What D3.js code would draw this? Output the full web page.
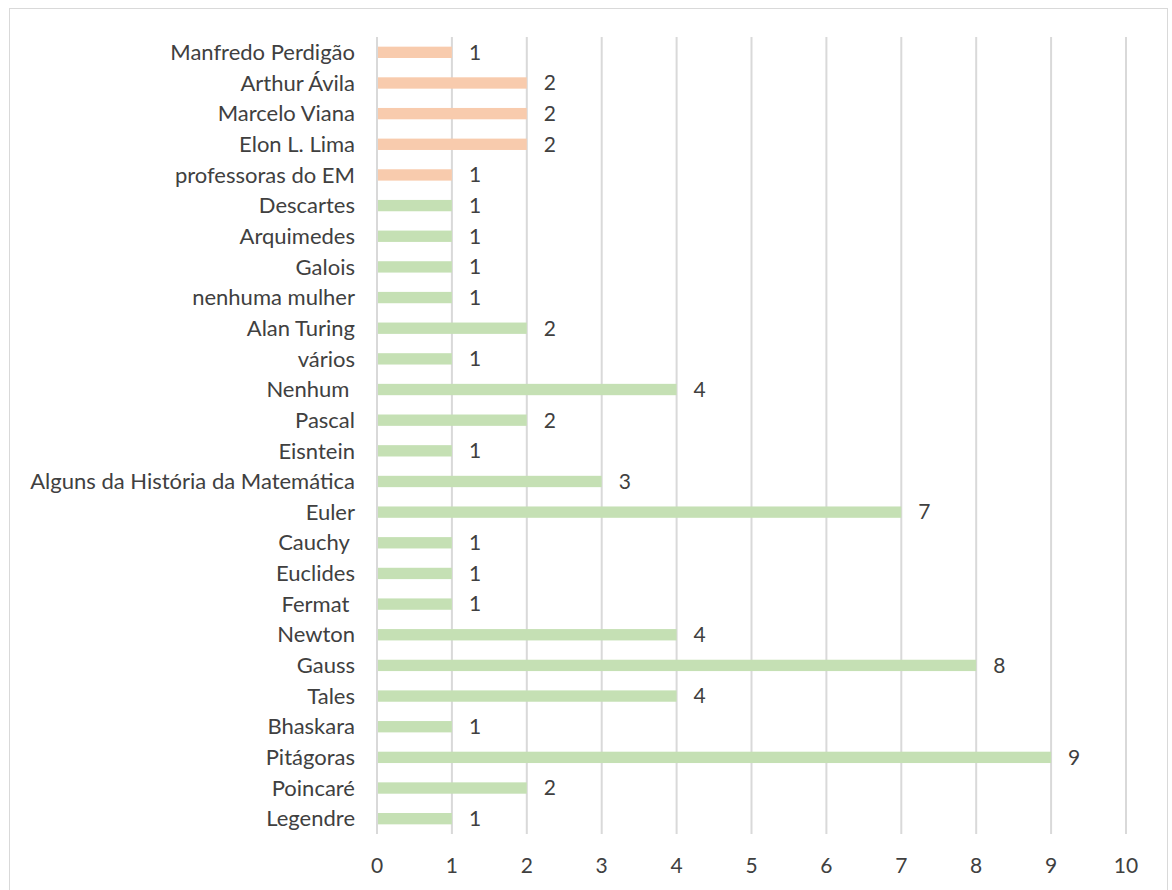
<!DOCTYPE html>
<html>
<head>
<meta charset="utf-8">
<script src="https://cdn.jsdelivr.net/npm/d3@7"></script>
<style>
  body { margin: 0; background: #fff; }
  text { font-family: Lato, "Open Sans", sans-serif; fill: #404040; white-space: pre; }
</style>
</head>
<body>
<script>
// categories top to bottom
const names = ['Manfredo Perdigão', 'Arthur Ávila', 'Marcelo Viana', 'Elon L. Lima', 'professoras do EM',
  'Descartes', 'Arquimedes', 'Galois', 'nenhuma mulher', 'Alan Turing', 'vários', 'Nenhum ', 'Pascal',
  'Eisntein', 'Alguns da História da Matemática', 'Euler', 'Cauchy ', 'Euclides', 'Fermat ', 'Newton',
  'Gauss', 'Tales', 'Bhaskara', 'Pitágoras', 'Poincaré', 'Legendre']
const counts = [1, 2, 2, 2, 1, 1, 1, 1, 1, 2, 1, 4, 2, 1, 3, 7, 1, 1, 1, 4, 8, 4, 1, 9, 2, 1]
const groups = ['br', 'br', 'br', 'br', 'br', 'w', 'w', 'w', 'w', 'w', 'w', 'w', 'w', 'w', 'w', 'w', 'w', 'w', 'w', 'w', 'w', 'w', 'w', 'w', 'w', 'w']
const xTicks = [0, 1, 2, 3, 4, 5, 6, 7, 8, 9, 10]

let width = 1172, height = 890
let colour = d3.scaleOrdinal().domain(['br', 'w']).range(['#F8CBAD', '#C5E0B4'])

let svg = d3.select('body').append('svg')
  .attr('width', width)
  .attr('height', height)

svg.append('rect')
  .attr('x', 9.5).attr('y', 8.5)
  .attr('width', 1158).attr('height', 900)
  .style('fill', '#fff')
  .style('stroke', '#d9d9d9')

let x = d3.scaleLinear().domain([0, 10]).range([377, 1126])
let y = d3.scaleBand().domain(d3.range(names.length)).range([37, 834]).paddingInner(0.63).paddingOuter(0.315)

// gridlines
svg.append('g').selectAll('line')
  .data(xTicks)
  .join('line')
  .attr('x1', d => x(d)).attr('x2', d => x(d))
  .attr('y1', 37).attr('y2', 834)
  .style('stroke', '#d9d9d9')
  .style('stroke-width', 2)

// bars
svg.append('g').selectAll('rect')
  .data(counts)
  .join('rect')
  .attr('x', x(0) + 1)
  .attr('y', (d, i) => y(i))
  .attr('width', d => x(d) - x(0) - 1)
  .attr('height', y.bandwidth())
  .style('fill', (d, i) => colour(groups[i]))

// category labels
svg.append('g').selectAll('text')
  .data(names)
  .join('text')
  .attr('x', 355)
  .attr('y', (d, i) => y(i) + y.bandwidth() / 2)
  .attr('dy', '0.35em')
  .attr('text-anchor', 'end')
  .style('font-size', '22px')
  .text(d => d)

// value labels
svg.append('g').selectAll('text')
  .data(counts)
  .join('text')
  .attr('x', d => x(d) + 17)
  .attr('y', (d, i) => y(i) + y.bandwidth() / 2)
  .attr('dy', '0.35em')
  .style('font-size', '21px')
  .text(d => d)

// x tick labels
svg.append('g').selectAll('text')
  .data(xTicks)
  .join('text')
  .attr('x', d => x(d))
  .attr('y', 866)
  .attr('dy', '0.35em')
  .attr('text-anchor', 'middle')
  .style('font-size', '21px')
  .text(d => d)
</script>
</body>
</html>
